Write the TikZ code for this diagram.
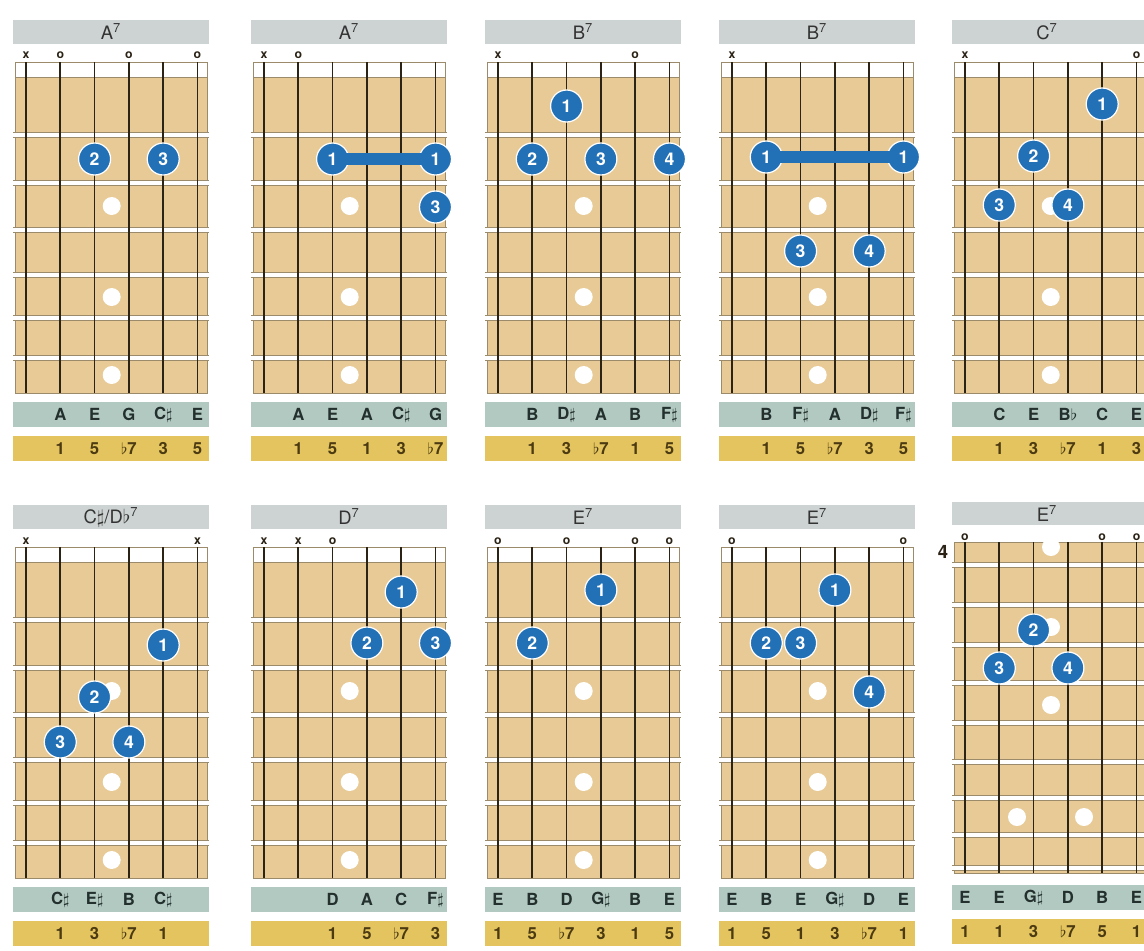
\documentclass[tikz,border=0pt]{standalone}
\usepackage{fontspec}
\setsansfont{TeX Gyre Heros}
\definecolor{boardtan}{HTML}{E7CA95}
\definecolor{fretline}{HTML}{9C8B6B}
\definecolor{stringcol}{HTML}{2B2316}
\definecolor{headgray}{HTML}{CDD3D2}
\definecolor{notegreen}{HTML}{B2C9C1}
\definecolor{degreegold}{HTML}{E4C45E}
\definecolor{fingerblue}{HTML}{2270B6}
\definecolor{notetext}{HTML}{23302E}
\definecolor{degreetext}{HTML}{4B3A12}
\definecolor{titletext}{HTML}{333333}

\begin{document}
\begin{tikzpicture}[x=0.02cm,y=-0.02cm, every node/.style={font=\sffamily},
  board/.style={fill=boardtan,draw=fretline,line width=0.3pt},
  nutbox/.style={fill=white,draw=fretline,line width=0.4pt},
  fretedge/.style={draw=fretline,line width=3.6pt},
  fretwire/.style={draw=white,line width=2.4pt},
  gstring/.style={draw=stringcol,line width=1pt},
  inlay/.style={fill=white},
  headbar/.style={fill=headgray},
  notebar/.style={fill=notegreen},
  degreebar/.style={fill=degreegold},
  chordname/.style={font=\sffamily\fontsize{10.5}{12}\selectfont,text=titletext},
  stringmark/.style={font=\sffamily\bfseries\fontsize{7}{7}\selectfont,text=stringcol},
  fretnum/.style={font=\sffamily\bfseries\fontsize{10.5}{12}\selectfont,text=stringcol},
  finger/.style={circle,fill=fingerblue,draw=white,line width=0.7pt,minimum size=0.64cm,inner sep=0pt,text=white,font=\sffamily\bfseries\fontsize{10}{10}\selectfont},
  barre/.style={draw=fingerblue,line width=6.5pt,shorten <=-2pt,shorten >=-2pt},
  note/.style={font=\sffamily\bfseries\fontsize{9.5}{10}\selectfont,text=notetext},
  degree/.style={font=\sffamily\bfseries\fontsize{9.5}{10}\selectfont,text=degreetext}]
  \path[fill=white,use as bounding box] (0,0) rectangle (1144,951);
  \clip (0,0) rectangle (1144,951);

  \foreach \cx/\cy in {26/20,264/20,498/20,732/20,965/20,26/505,264/505,498/505,732/505}{
    \begin{scope}[shift={(\cx,\cy)}]
      \fill[headbar] (-13,0) rectangle (183,24);
      \path[board] (-11,42) rectangle (181,373);
      \path[nutbox] (-11,42) rectangle (181,57);
      \foreach \f in {115,163,210,255,298,338}{
        \draw[fretedge] (-13,\f) -- (183,\f);
        \draw[fretwire] (-13,\f) -- (183,\f);
      }
      \foreach \f in {186,277,355} \fill[inlay] (85.7,\f) circle[radius=0.18cm];
      \foreach \s in {0,...,5} \draw[gstring] ({\s*34.3},42) -- ({\s*34.3},373);
      \fill[notebar] (-13,382) rectangle (183,407);
      \fill[degreebar] (-13,416) rectangle (183,441);
    \end{scope}
  }

  \begin{scope}[shift={(965,505)}]
    \fill[headbar] (-13,-3) rectangle (183,20);
    \path[board] (-11,37) rectangle (181,368);
    \foreach \f in {60,100,140,178,218,257,293,330,363}{
      \draw[fretedge] (-13,\f) -- (183,\f);
      \draw[fretwire] (-13,\f) -- (183,\f);
    }
    \foreach \p in {(86,42),(86,122),(86,200),(52,312),(119,312)} \fill[inlay] \p circle[radius=0.18cm];
    \foreach \s in {0,...,5} \draw[gstring] ({\s*34.3},37) -- ({\s*34.3},368);
    \fill[notebar] (-13,380) rectangle (183,405);
    \fill[degreebar] (-13,414) rectangle (183,439);
  \end{scope}

  \begin{scope}[shift={(26,20)}]
    \node[chordname] (c1name) at (85,12) {A\textsuperscript{7}};
    \foreach \s/\m in {0/x,1/o,3/o,5/o} \node[stringmark] (c1m\s) at ({\s*34.3},35) {\m};
    \node[finger] (c1f2) at (68.6,139) {2};
    \node[finger] (c1f3) at (137.2,139) {3};
    \foreach \s/\n/\d in {1/A/1,2/E/5,3/G/$\flat$7,4/C$\sharp$/3,5/E/5}{
      \node[note] (c1n\s) at ({\s*34.3},394.5) {\n};
      \node[degree] (c1d\s) at ({\s*34.3},428.5) {\d};
    }
  \end{scope}

  \begin{scope}[shift={(264,20)}]
    \node[chordname] (c2name) at (85,12) {A\textsuperscript{7}};
    \foreach \s/\m in {0/x,1/o} \node[stringmark] (c2m\s) at ({\s*34.3},35) {\m};
    \node[finger] (c2f1a) at (68.6,139) {1};
    \node[finger] (c2f1b) at (171.5,139) {1};
    \draw[barre] (c2f1a.east) -- (c2f1b.west);
    \node[finger] (c2f3) at (171.5,187) {3};
    \foreach \s/\n/\d in {1/A/1,2/E/5,3/A/1,4/C$\sharp$/3,5/G/$\flat$7}{
      \node[note] (c2n\s) at ({\s*34.3},394.5) {\n};
      \node[degree] (c2d\s) at ({\s*34.3},428.5) {\d};
    }
  \end{scope}

  \begin{scope}[shift={(498,20)}]
    \node[chordname] (c3name) at (85,12) {B\textsuperscript{7}};
    \foreach \s/\m in {0/x,4/o} \node[stringmark] (c3m\s) at ({\s*34.3},35) {\m};
    \node[finger] (c3f1) at (68.6,86) {1};
    \node[finger] (c3f2) at (34.3,139) {2};
    \node[finger] (c3f3) at (102.9,139) {3};
    \node[finger] (c3f4) at (171.5,139) {4};
    \foreach \s/\n/\d in {1/B/1,2/D$\sharp$/3,3/A/$\flat$7,4/B/1,5/F$\sharp$/5}{
      \node[note] (c3n\s) at ({\s*34.3},394.5) {\n};
      \node[degree] (c3d\s) at ({\s*34.3},428.5) {\d};
    }
  \end{scope}

  \begin{scope}[shift={(732,20)}]
    \node[chordname] (c4name) at (85,12) {B\textsuperscript{7}};
    \node[stringmark] (c4m0) at (0,35) {x};
    \node[finger] (c4f1a) at (34.3,137) {1};
    \node[finger] (c4f1b) at (171.5,137) {1};
    \draw[barre] (c4f1a.east) -- (c4f1b.west);
    \node[finger] (c4f3) at (68.6,231) {3};
    \node[finger] (c4f4) at (137.2,231) {4};
    \foreach \s/\n/\d in {1/B/1,2/F$\sharp$/5,3/A/$\flat$7,4/D$\sharp$/3,5/F$\sharp$/5}{
      \node[note] (c4n\s) at ({\s*34.3},394.5) {\n};
      \node[degree] (c4d\s) at ({\s*34.3},428.5) {\d};
    }
  \end{scope}

  \begin{scope}[shift={(965,20)}]
    \node[chordname] (c5name) at (82,12) {C\textsuperscript{7}};
    \foreach \s/\m in {0/x,5/o} \node[stringmark] (c5m\s) at ({\s*34.3},35) {\m};
    \node[finger] (c5f1) at (137.2,84) {1};
    \node[finger] (c5f2) at (68.6,136) {2};
    \node[finger] (c5f3) at (34.3,185) {3};
    \node[finger] (c5f4) at (102.9,185) {4};
    \foreach \s/\n/\d in {1/C/1,2/E/3,3/B$\flat$/$\flat$7,4/C/1,5/E/3}{
      \node[note] (c5n\s) at ({\s*34.3},394.5) {\n};
      \node[degree] (c5d\s) at ({\s*34.3},428.5) {\d};
    }
  \end{scope}

  \begin{scope}[shift={(26,505)}]
    \node[chordname] (c6name) at (85,12) {C$\sharp$/D$\flat$\textsuperscript{7}};
    \foreach \s/\m in {0/x,5/x} \node[stringmark] (c6m\s) at ({\s*34.3},36) {\m};
    \node[finger] (c6f1) at (137.2,140) {1};
    \node[finger] (c6f2) at (68.6,192) {2};
    \node[finger] (c6f3) at (34.3,237) {3};
    \node[finger] (c6f4) at (102.9,237) {4};
    \foreach \s/\n/\d in {1/C$\sharp$/1,2/E$\sharp$/3,3/B/$\flat$7,4/C$\sharp$/1}{
      \node[note] (c6n\s) at ({\s*34.3},394.5) {\n};
      \node[degree] (c6d\s) at ({\s*34.3},428.5) {\d};
    }
  \end{scope}

  \begin{scope}[shift={(264,505)}]
    \node[chordname] (c7name) at (85,12) {D\textsuperscript{7}};
    \foreach \s/\m in {0/x,1/x,2/o} \node[stringmark] (c7m\s) at ({\s*34.3},36) {\m};
    \node[finger] (c7f1) at (137.2,87) {1};
    \node[finger] (c7f2) at (102.9,138) {2};
    \node[finger] (c7f3) at (171.5,138) {3};
    \foreach \s/\n/\d in {2/D/1,3/A/5,4/C/$\flat$7,5/F$\sharp$/3}{
      \node[note] (c7n\s) at ({\s*34.3},394.5) {\n};
      \node[degree] (c7d\s) at ({\s*34.3},428.5) {\d};
    }
  \end{scope}

  \begin{scope}[shift={(498,505)}]
    \node[chordname] (c8name) at (85,12) {E\textsuperscript{7}};
    \foreach \s/\m in {0/o,2/o,4/o,5/o} \node[stringmark] (c8m\s) at ({\s*34.3},36) {\m};
    \node[finger] (c8f1) at (102.9,85) {1};
    \node[finger] (c8f2) at (34.3,138) {2};
    \foreach \s/\n/\d in {0/E/1,1/B/5,2/D/$\flat$7,3/G$\sharp$/3,4/B/1,5/E/5}{
      \node[note] (c8n\s) at ({\s*34.3},394.5) {\n};
      \node[degree] (c8d\s) at ({\s*34.3},428.5) {\d};
    }
  \end{scope}

  \begin{scope}[shift={(732,505)}]
    \node[chordname] (c9name) at (85,12) {E\textsuperscript{7}};
    \foreach \s/\m in {0/o,5/o} \node[stringmark] (c9m\s) at ({\s*34.3},36) {\m};
    \node[finger] (c9f1) at (102.9,85) {1};
    \node[finger] (c9f2) at (34.3,138) {2};
    \node[finger] (c9f3) at (68.6,138) {3};
    \node[finger] (c9f4) at (137.2,187) {4};
    \foreach \s/\n/\d in {0/E/1,1/B/5,2/E/1,3/G$\sharp$/3,4/D/$\flat$7,5/E/1}{
      \node[note] (c9n\s) at ({\s*34.3},394.5) {\n};
      \node[degree] (c9d\s) at ({\s*34.3},428.5) {\d};
    }
  \end{scope}

  \begin{scope}[shift={(965,505)}]
    \node[chordname] (c10name) at (82,9) {E\textsuperscript{7}};
    \node[fretnum] (c10pos) at (-22,47) {4};
    \foreach \s/\m in {0/o,4/o,5/o} \node[stringmark] (c10m\s) at ({\s*34.3},32) {\m};
    \node[finger] (c10f2) at (68.6,125) {2};
    \node[finger] (c10f3) at (34.3,163) {3};
    \node[finger] (c10f4) at (102.9,163) {4};
    \foreach \s/\n/\d in {0/E/1,1/E/1,2/G$\sharp$/3,3/D/$\flat$7,4/B/5,5/E/1}{
      \node[note] (c10n\s) at ({\s*34.3},392.5) {\n};
      \node[degree] (c10d\s) at ({\s*34.3},426.5) {\d};
    }
  \end{scope}
\end{tikzpicture}
\end{document}
